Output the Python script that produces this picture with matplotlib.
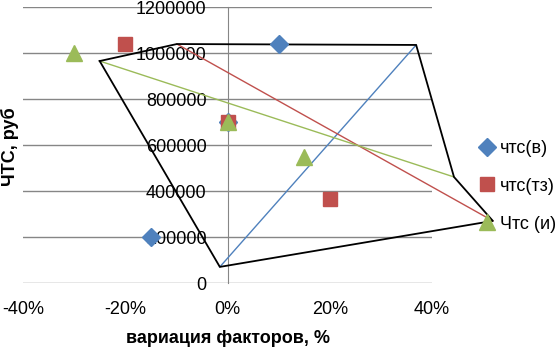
import matplotlib
matplotlib.use("Agg")
import matplotlib.pyplot as plt
from matplotlib.ticker import FuncFormatter

plt.rcParams['font.family'] = ['Liberation Sans', 'DejaVu Sans']
plt.rcParams['axes.unicode_minus'] = False

# scatter series (x = variation, y = NPV)
x_v = [-0.15, 0.0, 0.10]
y_v = [200000, 700000, 1040000]
x_tz = [-0.20, 0.0, 0.20]
y_tz = [1040000, 700000, 365000]
x_i = [-0.30, 0.0, 0.15]
y_i = [1000000, 700000, 550000]
labels = ["чтс(в)", "чтс(тз)", "Чтс (и)"]

# hand-drawn shapes over the chart
poly_x = [-0.250, -0.099, 0.369, 0.443, 0.519, -0.015, -0.250]
poly_y = [965000, 1039000, 1035000, 461000, 270000, 70000, 965000]
blue_ln_x = [-0.015, 0.369]
blue_ln_y = [70000, 1035000]
red_ln_x = [-0.099, 0.519]
red_ln_y = [1039000, 270000]
green_ln_x = [-0.250, 0.443]
green_ln_y = [965000, 461000]

xticks = [-0.4, -0.2, 0.0, 0.2, 0.4]
yticks = [0, 200000, 400000, 600000, 800000, 1000000, 1200000]

BLUE, RED, GREEN = "#4F81BD", "#C0504D", "#9BBB59"

fig = plt.figure(figsize=(5.55, 3.52), dpi=100)
ax = fig.add_axes([23 / 555, 1 - 283 / 352, (432 - 23) / 555, (283 - 7) / 352])

for y in yticks:
    ax.axhline(y, color="#868686", lw=1, zorder=1)
ax.set_xlim(-0.4, 0.4)
ax.set_ylim(0, 1200000)
ax.set_xticks(xticks)
ax.set_yticks(yticks)
ax.xaxis.set_major_formatter(FuncFormatter(lambda v, p: f"{v * 100:.0f}%"))
ax.yaxis.set_major_formatter(FuncFormatter(lambda v, p: f"{v:.0f}"))
for s in ("top", "right", "bottom"):
    ax.spines[s].set_visible(False)
ax.spines["left"].set_position(("data", 0))
ax.spines["left"].set_color("#868686")
ax.tick_params(axis="both", length=0, labelsize=13)
ax.tick_params(axis="x", pad=13)
ax.tick_params(axis="y", pad=15)

ax.plot(blue_ln_x, blue_ln_y, color=BLUE, lw=1, zorder=3)
ax.plot(red_ln_x, red_ln_y, color=RED, lw=1, zorder=3, clip_on=False)
ax.plot(green_ln_x, green_ln_y, color=GREEN, lw=1, zorder=3, clip_on=False)
ax.plot(poly_x, poly_y, color="black", lw=1.3, zorder=4, clip_on=False)

h1, = ax.plot(x_v, y_v, "D", color=BLUE, ms=9, ls="none", zorder=5)
h2, = ax.plot(x_tz, y_tz, "s", color=RED, ms=10, ls="none", zorder=5)
h3, = ax.plot(x_i, y_i, "^", color=GREEN, ms=11, ls="none", zorder=5)

fig.legend([h1, h2, h3], labels, loc="upper left",
           bbox_to_anchor=(480 / 555, 1 - 140 / 352), frameon=False,
           fontsize=13, handlelength=0.8, handletextpad=0.3,
           labelspacing=1.15, borderpad=0, borderaxespad=0)

ax.set_xlabel("вариация факторов, %", fontsize=13, fontweight="bold")
ax.xaxis.set_label_coords(0.5, -0.17)
fig.text(10 / 555, 1 - 147 / 352, "ЧТС, руб", rotation=90, fontsize=13,
         fontweight="bold", ha="center", va="center")

fig.savefig("out.png", dpi=100)
